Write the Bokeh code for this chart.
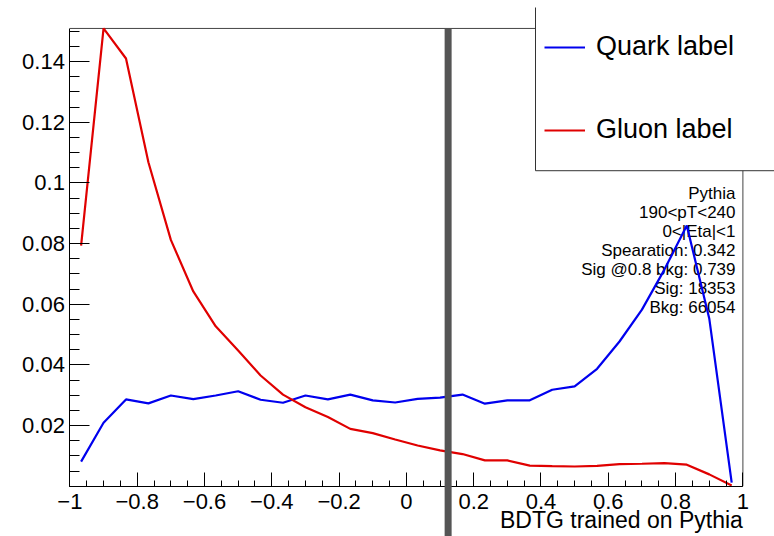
from bokeh.plotting import figure
from bokeh.models import (ColumnDataSource, Range1d, FixedTicker, Label,
                          BoxAnnotation, Legend, LegendItem)
from bokeh.embed import file_html
from bokeh.resources import INLINE

# BDTG response, 30 bins on [-1, 1] (bin centres)
bin_centers = [-0.9667, -0.9, -0.8333, -0.7667, -0.7, -0.6333, -0.5667, -0.5,
               -0.4333, -0.3667, -0.3, -0.2333, -0.1667, -0.1, -0.0333, 0.0333,
               0.1, 0.1667, 0.2333, 0.3, 0.3667, 0.4333, 0.5, 0.5667, 0.6333,
               0.7, 0.7667, 0.8333, 0.9, 0.9667]

quark = [0.0081, 0.0209, 0.0286, 0.0273, 0.0299, 0.0287, 0.0299, 0.0313,
         0.0285, 0.0275, 0.0299, 0.0286, 0.0302, 0.0283, 0.0276, 0.0288,
         0.0292, 0.0302, 0.0272, 0.0283, 0.0283, 0.0318, 0.0329, 0.0387,
         0.0477, 0.0582, 0.0714, 0.0859, 0.0553, 0.0012]

gluon = [0.0793, 0.1509, 0.1410, 0.1068, 0.0812, 0.0642, 0.0527, 0.0447,
         0.0365, 0.0302, 0.0260, 0.0228, 0.0189, 0.0175, 0.0154, 0.0134,
         0.0118, 0.0106, 0.0085, 0.0085, 0.0068, 0.0066, 0.0065, 0.0067,
         0.0073, 0.0074, 0.0076, 0.0071, 0.0039, 0.0002]

cut_value = 0.124

x_min, x_max = -1.0, 1.0
y_min, y_max = 0.0, 0.1509

x_ticks = [-1.0, -0.8, -0.6, -0.4, -0.2, 0.0, 0.2, 0.4, 0.6, 0.8, 1.0]
x_tick_labels = ["\u22121", "\u22120.8", "\u22120.6", "\u22120.4", "\u22120.2",
                 "0", "0.2", "0.4", "0.6", "0.8", "1"]
y_ticks = [0.02, 0.04, 0.06, 0.08, 0.10, 0.12, 0.14]
y_tick_labels = ["0.02", "0.04", "0.06", "0.08", "0.1", "0.12", "0.14"]

stats_lines = ["Pythia", "190<pT<240", "0<|Eta|<1", "Spearation: 0.342",
               "Sig @0.8 bkg: 0.739", "Sig: 18353", "Bkg: 66054"]

FONT = "Liberation Sans"

# The plotting area fills the whole canvas; axes sit at fixed positions
# inside it so the cut line and the legend box may run past the axes box.
p = figure(width=774, height=536, output_backend="svg", toolbar_location=None,
           x_range=Range1d(-1.20624, 1.09391),
           y_range=Range1d(-0.016582, 0.16011),
           min_border=0)
p.background_fill_color = "white"
p.border_fill_color = "white"
p.outline_line_color = None
p.xgrid.visible = False
p.ygrid.visible = False

src = ColumnDataSource(dict(x=bin_centers, quark=quark, gluon=gluon))

# statistics text (under the curves)
p.add_layout(Label(x=0.978, y=0.0995, text="\n".join(stats_lines),
                   text_align="right", text_baseline="top",
                   text_font=FONT, text_font_size="17px",
                   text_line_height=1.0, text_color="black",
                   level="underlay"))

# top and right edges of the axes box
p.segment(x0=[x_min, x_max], y0=[y_max, y_min], x1=[x_max, x_max],
          y1=[y_max, y_max], line_color="#444444", line_width=1)

rq = p.line("x", "quark", source=src, line_color="#0000ee", line_width=2.2)
rg = p.line("x", "gluon", source=src, line_color="#e00000", line_width=2.2)

# axes
xa = p.xaxis[0]
xa.fixed_location = y_min
xa.bounds = (x_min, x_max)
xa.ticker = FixedTicker(ticks=x_ticks,
                        minor_ticks=[round(-1 + 0.05 * i, 2) for i in range(41)])
xa.major_label_overrides = {t: l for t, l in zip(x_ticks, x_tick_labels)}
xa.major_tick_in = 14
xa.major_tick_out = 0
xa.minor_tick_in = 6
xa.minor_tick_out = 0
xa.major_label_standoff = 8
xa.major_label_text_font = FONT
xa.major_label_text_font_size = "22px"
xa.major_label_text_color = "black"
xa.axis_line_color = "black"
xa.major_tick_line_color = "black"
xa.minor_tick_line_color = "black"

ya = p.yaxis[0]
ya.fixed_location = x_min
ya.bounds = (y_min, y_max)
ya.ticker = FixedTicker(ticks=y_ticks,
                        minor_ticks=[round(0.005 * i, 3) for i in range(31)])
ya.major_label_overrides = {t: l for t, l in zip(y_ticks, y_tick_labels)}
ya.major_tick_in = 20
ya.major_tick_out = 0
ya.minor_tick_in = 10
ya.minor_tick_out = 0
ya.major_label_standoff = 5
ya.major_label_text_font = FONT
ya.major_label_text_font_size = "22px"
ya.major_label_text_color = "black"
ya.axis_line_color = "black"
ya.major_tick_line_color = "black"
ya.minor_tick_line_color = "black"

# x-axis title, right aligned at the end of the axis
p.add_layout(Label(x=x_max, y=-0.0110, text="BDTG trained on Pythia",
                   text_align="right", text_baseline="alphabetic",
                   text_font=FONT, text_font_size="23px", text_color="black"))

# cut position
p.add_layout(BoxAnnotation(left=cut_value - 0.0104, right=cut_value + 0.0104,
                           bottom=None, top=y_max, fill_color="#555555",
                           fill_alpha=1.0, line_color=None))

# legend box
p.add_layout(BoxAnnotation(left=0.3837, right=None, bottom=0.1040, top=0.1578,
                           fill_color="white", fill_alpha=1.0, line_color=None))
p.segment(x0=[0.3837, 0.3837], y0=[0.1040, 0.1040], x1=[0.3837, 1.2],
          y1=[0.1578, 0.1040], line_color="#333333", line_width=1,
          level="overlay")

legend = Legend(items=[LegendItem(label="Quark label", renderers=[rq]),
                       LegendItem(label="Gluon label", renderers=[rg])],
                location=(544, 386.3), padding=0, margin=0,
                glyph_width=41, glyph_height=40, label_height=40,
                label_standoff=11, spacing=43,
                label_text_font=FONT, label_text_font_size="27px",
                label_text_color="black",
                background_fill_alpha=0, border_line_color=None)
p.add_layout(legend)

open("out.html", "w").write(file_html(p, INLINE))
